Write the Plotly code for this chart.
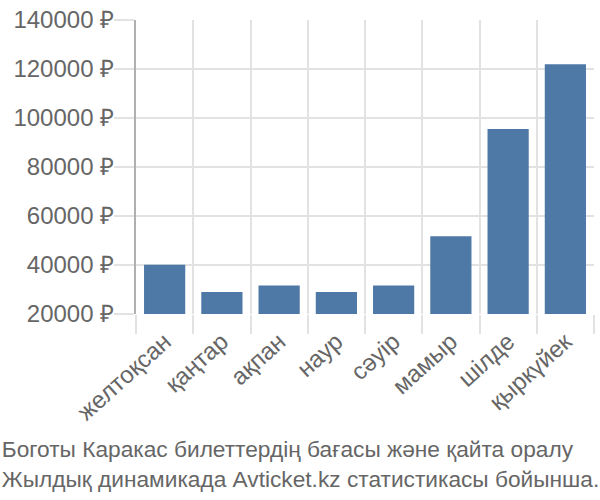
import plotly.graph_objects as go

categories = ["желтоқсан", "қаңтар", "ақпан", "наур", "сәуір", "мамыр", "шілде", "қыркүйек"]
prices = [40100, 29000, 31600, 29000, 31600, 51700, 95500, 121900]
y_ticks = [20000, 40000, 60000, 80000, 100000, 120000, 140000]
y_tick_labels = [f"{v} ₽" for v in y_ticks]
title_lines = ["Боготы Каракас билеттердің бағасы және қайта оралу",
               "Жылдық динамикада Avticket.kz статистикасы бойынша."]

FONT = "Liberation Sans, Arial, sans-serif"
GRID = "#e2e2e2"
TEXT = "#666666"

fig = go.Figure(go.Bar(
    x=categories, y=prices,
    marker=dict(color="#4e79a7", line=dict(width=0)),
))

fig.update_layout(
    width=600, height=500,
    margin=dict(l=136, r=6, t=14, b=186),
    paper_bgcolor="white", plot_bgcolor="white",
    bargap=0.28,
    showlegend=False,
    font=dict(family=FONT, color=TEXT, size=22),
    title=dict(
        text="<br>".join(title_lines),
        xref="container", yref="container",
        x=0.003, y=0.086, xanchor="left", yanchor="middle",
        font=dict(family=FONT, size=22.7, color=TEXT),
    ),
)

fig.update_yaxes(
    range=[20000, 140000],
    tickvals=y_ticks, ticktext=y_tick_labels,
    showgrid=True, gridcolor=GRID, gridwidth=2,
    ticks="outside", ticklen=20, tickcolor=GRID, tickwidth=2,
    showline=True, linecolor="#b0b0b0", linewidth=2,
    zeroline=False,
    ticklabelstandoff=-5,
    tickfont=dict(size=24, color=TEXT),
)

fig.update_xaxes(
    tickangle=-42,
    tickson="boundaries",
    showgrid=True, gridcolor=GRID, gridwidth=2,
    ticks="outside", ticklen=19, tickcolor=GRID, tickwidth=2,
    showline=False,
    ticklabelstandoff=8,
    tickfont=dict(size=24, color=TEXT),
)

fig.write_html("out.html")
